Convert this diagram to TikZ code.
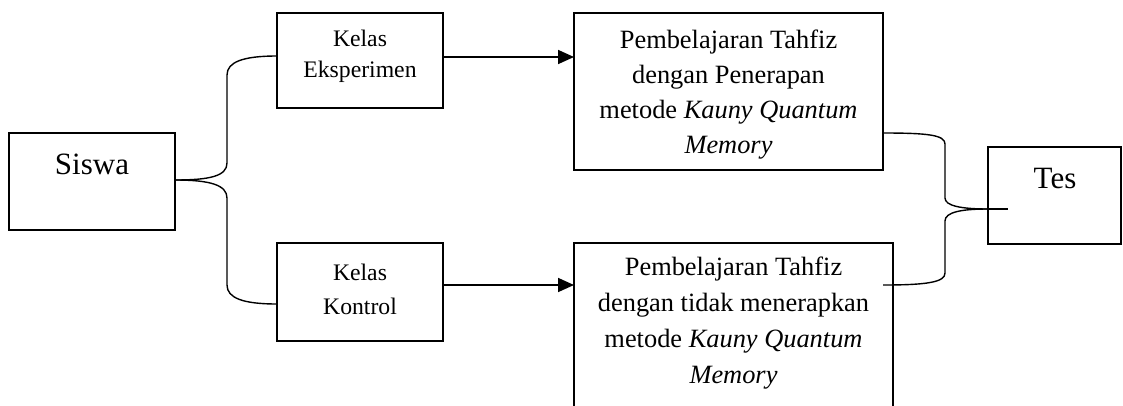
\documentclass[tikz,border=0pt]{standalone}
\usepackage{fontspec}
\setmainfont{Liberation Serif}
\usetikzlibrary{arrows.meta}
\begin{document}
\begin{tikzpicture}[x=1pt,y=-1pt,
  box/.style={draw,line width=1.4pt,inner sep=0pt,outer sep=0pt,rectangle},
  big/.style={font=\fontsize{31}{36}\selectfont,anchor=base,inner sep=0pt},
  mid/.style={anchor=base,inner sep=0pt,align=center},
  txt/.style={font=\fontsize{26.4}{35.5}\selectfont,anchor=base,inner sep=0pt,align=center},
  conn/.style={line width=1.4pt},
  arr/.style={line width=1.7pt,-{Triangle[length=16pt,width=14pt]}}]
\useasboundingbox (0,0) rectangle (1123,405);
% boxes
\node[box,minimum width=166pt,minimum height=97pt] (siswa) at (92,181.5) {};
\node[box,minimum width=166pt,minimum height=95pt] (ke) at (360,60.5) {};
\node[box,minimum width=166pt,minimum height=98pt] (kk) at (360,292) {};
\node[box,minimum width=309pt,minimum height=157pt] (p1) at (728.5,91.5) {};
\node[box,minimum width=319pt,minimum height=177pt] (p2) at (733.5,331.5) {};
\node[box,minimum width=133pt,minimum height=97pt] (tes) at (1054.5,195.5) {};
% texts (base anchor = baseline of the last line)
\node[big] (tsiswa) at (92,174) {Siswa};
\node[big] (ttes) at (1055,188) {Tes};
\node[mid,font=\fontsize{23.7}{31}\selectfont] (tke) at (360,77) {Kelas\\Eksperimen};
\node[mid,font=\fontsize{23.7}{33.5}\selectfont] (tkk) at (360,314) {Kelas\\Kontrol};
\node[txt,font=\fontsize{26.4}{35}\selectfont] (tp1) at (728.5,153) {Pembelajaran Tahfiz\\dengan Penerapan\\metode \textit{Kauny Quantum}\\\textit{Memory}};
\node[txt,font=\fontsize{26.4}{36}\selectfont] (tp2) at (733.5,383) {Pembelajaran Tahfiz\\dengan tidak menerapkan\\metode \textit{Kauny Quantum}\\\textit{Memory}};
% left brace
\coordinate (bl) at (siswa.east |- 0,180);
\draw[conn] (bl) .. controls (210,180) and (227,176) .. (227,163) -- (227,75)
  .. controls (227,62) and (243,56) .. (ke.west |- 0,56);
\draw[conn] (bl) .. controls (210,180) and (227,185) .. (227,198) -- (227,285)
  .. controls (227,298) and (243,304) .. (kk.west |- 0,304);
% arrows
\draw[arr] (ke.east |- 0,57) -- (p1.west |- 0,57);
\draw[arr] (kk.east |- 0,285) -- (p2.west |- 0,285);
% right brace
\coordinate (br) at (tes.west |- 0,209);
\coordinate (r2) at ([xshift=-10pt]p2.east |- 0,285);
\draw[conn] (p1.east |- 0,133) .. controls (928,133) and (945,135) .. (945,144) -- (945,198)
  .. controls (945,206) and (962,209) .. (br);
\draw[conn] (r2) .. controls (928,285) and (945,282) .. (945,273) -- (945,221)
  .. controls (945,212) and (962,209) .. (br);
\draw[line width=2.6pt] (br) -- ++(20,0) coordinate (tick);
\end{tikzpicture}
\end{document}
